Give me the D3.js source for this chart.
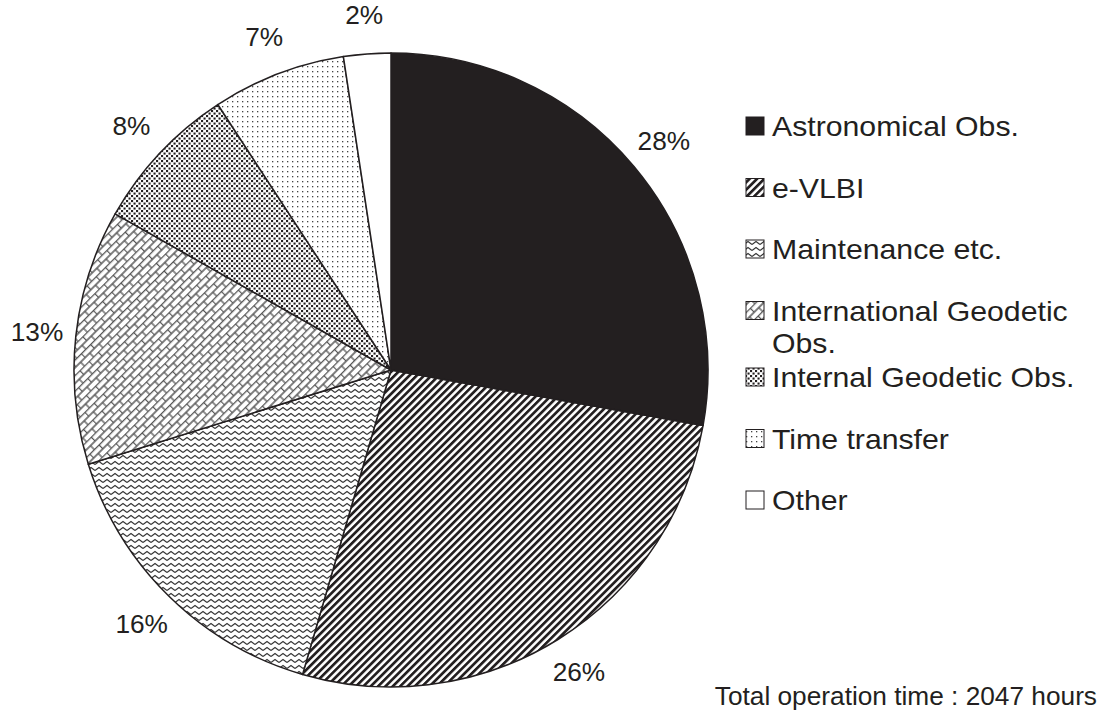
<!DOCTYPE html>
<html>
<head>
<meta charset="utf-8">
<script src="https://cdn.jsdelivr.net/npm/d3@7"></script>
<style>
  html, body { margin: 0; padding: 0; background: #fff; }
  text { font-family: "Liberation Sans", Arial, sans-serif; fill: #231f20; }
</style>
</head>
<body>
<svg id="chart" width="1113" height="715"></svg>
<script>
// ---- data ----
const categories = ["Astronomical Obs.", "e-VLBI", "Maintenance etc.", "International Geodetic Obs.", "Internal Geodetic Obs.", "Time transfer", "Other"];
const shares = [27.8, 26.7, 15.7, 13.0, 7.6, 6.8, 2.4];
const pctLabels = ["28%", "26%", "16%", "13%", "8%", "7%", "2%"];
const patternIds = ["solid", "stripes", "zigzag", "brick", "densedots", "sparsedots", "blank"];
const footnote = "Total operation time : 2047 hours";

// ---- layout ----
const W = 1113, H = 715;
const cx = 391, cy = 370, R = 317, labelR = 356;
const ink = "#231f20";

const svg = d3.select("#chart");
const defs = svg.append("defs");

// patterns
defs.append("pattern").attr("id", "stripes").attr("patternUnits", "userSpaceOnUse")
  .attr("width", 5.2).attr("height", 10).attr("patternTransform", "rotate(45)")
  .append("rect").attr("x", 0).attr("y", 0).attr("width", 2.7).attr("height", 10).attr("fill", ink);

const zz = defs.append("pattern").attr("id", "zigzag").attr("patternUnits", "userSpaceOnUse")
  .attr("width", 8).attr("height", 6);
zz.append("rect").attr("width", 8).attr("height", 6).attr("fill", "#fff");
zz.append("path").attr("d", "M0,4.5 L4,1.5 L8,4.5").attr("fill", "none").attr("stroke", "#333").attr("stroke-width", 1.1);

const br = defs.append("pattern").attr("id", "brick").attr("patternUnits", "userSpaceOnUse")
  .attr("width", 13).attr("height", 11).attr("patternTransform", "rotate(-45)");
br.append("rect").attr("width", 13).attr("height", 11).attr("fill", "#fff");
br.append("path").attr("d", "M0,0.5 H13 M0,6 H13 M0.5,0.5 V6 M7,6 V11.5")
  .attr("fill", "none").attr("stroke", "#555").attr("stroke-width", 1.3);

const dd = defs.append("pattern").attr("id", "densedots").attr("patternUnits", "userSpaceOnUse")
  .attr("width", 5).attr("height", 5);
dd.append("rect").attr("width", 5).attr("height", 5).attr("fill", "#fff");
dd.append("rect").attr("x", 0).attr("y", 0).attr("width", 2.1).attr("height", 2.1).attr("fill", ink);
dd.append("rect").attr("x", 2.5).attr("y", 2.5).attr("width", 2.1).attr("height", 2.1).attr("fill", ink);

const sd = defs.append("pattern").attr("id", "sparsedots").attr("patternUnits", "userSpaceOnUse")
  .attr("width", 5).attr("height", 5);
sd.append("rect").attr("width", 5).attr("height", 5).attr("fill", "#fff");
sd.append("rect").attr("x", 1).attr("y", 1).attr("width", 1.3).attr("height", 1.3).attr("fill", "#444");

const fillFor = id => id === "solid" ? ink : id === "blank" ? "#fff" : `url(#${id})`;

// ---- pie ----
const pie = d3.pie().sort(null).value(d => d)(shares);
const arc = d3.arc().innerRadius(0).outerRadius(R);
const labelArc = d3.arc().innerRadius(labelR).outerRadius(labelR);

const g = svg.append("g").attr("transform", `translate(${cx},${cy})`);
g.selectAll("path.slice").data(pie).join("path")
  .attr("class", "slice")
  .attr("d", arc)
  .attr("fill", (d, i) => fillFor(patternIds[i]))
  .attr("stroke", ink).attr("stroke-width", 1.5).attr("stroke-linejoin", "round");

g.selectAll("g.pct").data(pie).join("g")
  .attr("class", "pct")
  .attr("transform", d => { const [x, y] = labelArc.centroid(d); return `translate(${x},${y}) scale(1.05,1)`; })
  .append("text")
  .attr("text-anchor", "middle").attr("dy", "0.36em")
  .style("font-size", "25px")
  .text((d, i) => pctLabels[i]);

// ---- legend ----
const legX = 746, legY0 = 126, legStep = 61.5, extraPerLine = 5, sw = 18, legFont = 28, legStretch = 1.08, maxTextW = 320;
const lineGap = 32;
const leg = svg.append("g");
let shift = 0;
categories.forEach((c, i) => {
  const y = legY0 + i * legStep + shift;
  leg.append("rect").attr("x", legX).attr("y", y - sw / 2).attr("width", sw).attr("height", sw)
    .attr("fill", fillFor(patternIds[i])).attr("stroke", ink).attr("stroke-width", 1);
  const tg = leg.append("g").attr("transform", `translate(${legX + sw + 8},${y}) scale(${legStretch},1)`);
  const words = c.split(" ");
  let line = [], lines = [];
  const probe = tg.append("text").style("font-size", legFont + "px");
  words.forEach(w => {
    const test = line.concat([w]).join(" ");
    probe.text(test);
    if (probe.node().getComputedTextLength() * legStretch > maxTextW && line.length) { lines.push(line.join(" ")); line = [w]; }
    else line.push(w);
  });
  lines.push(line.join(" "));
  probe.remove();
  lines.forEach((ln, k) => {
    tg.append("text").style("font-size", legFont + "px")
      .attr("x", 0).attr("y", k * lineGap).attr("dy", "0.36em").text(ln);
  });
  shift += (lines.length - 1) * extraPerLine;
});

// footnote
svg.append("g").attr("transform", `translate(1097,705) scale(1.05,1)`)
  .append("text").attr("text-anchor", "end").style("font-size", "25px").text(footnote);
</script>
</body>
</html>
